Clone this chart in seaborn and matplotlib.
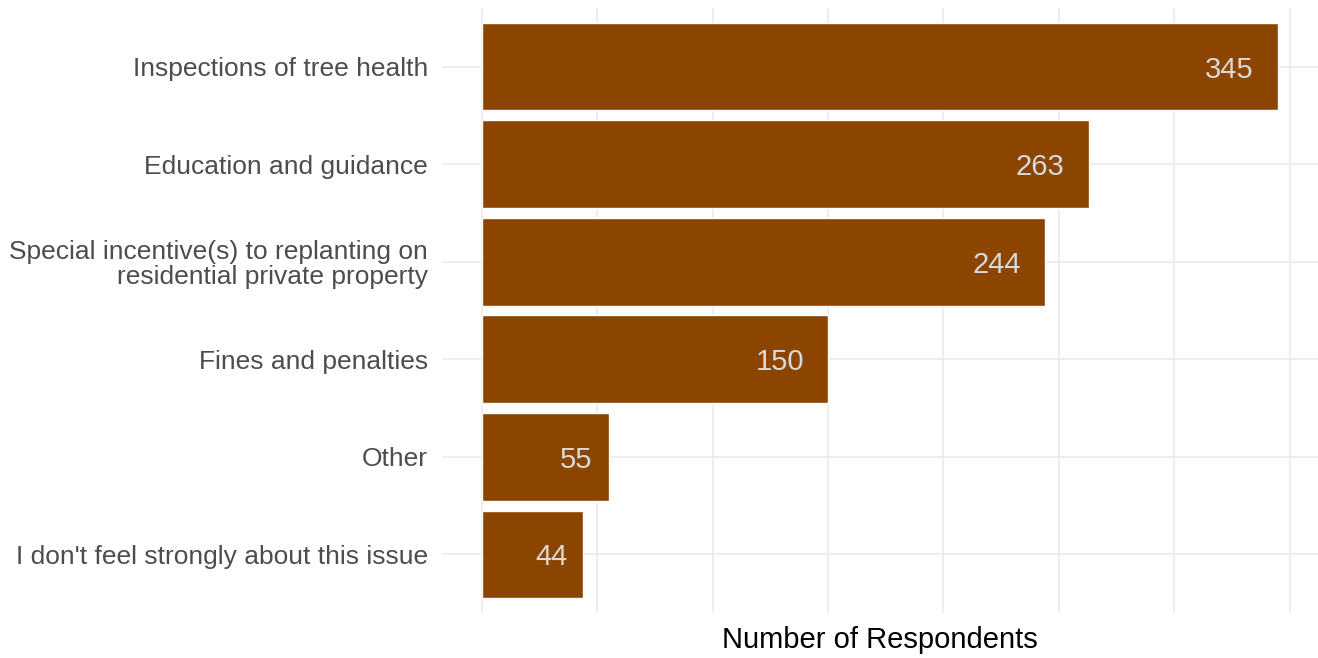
import matplotlib
matplotlib.use("Agg")
import matplotlib.pyplot as plt
import matplotlib.transforms as mtransforms
import seaborn as sns
import pandas as pd

categories = [
    "Inspections of tree health",
    "Education and guidance",
    "Special incentive(s) to replanting on\nresidential private property",
    "Fines and penalties",
    "Other",
    "I don't feel strongly about this issue",
]
counts = [345, 263, 244, 150, 55, 44]
x_ticks = [0, 50, 100, 150, 200, 250, 300, 350]

df = pd.DataFrame({"category": categories, "count": counts})

sns.set_theme(style="whitegrid")
plt.rcParams["font.family"] = ["Liberation Sans", "DejaVu Sans"]

W, H = 1318, 658
fig = plt.figure(figsize=(W / 100, H / 100), dpi=100)
ax = fig.add_axes([442 / W, 1 - 613 / H, (1318 - 442) / W, (613 - 8) / H])

sns.barplot(data=df, x="count", y="category", order=categories, orient="h",
            color="#8B4500", saturation=1, width=0.9, ax=ax, zorder=2)

ax.set_xlim(-0.05 * max(counts), max(counts) * 1.05)
ax.set_ylim(len(categories) - 1 + 0.6, -0.6)
ax.set_xticks(x_ticks)
ax.set_xticklabels([])
ax.tick_params(axis="x", length=0)
ax.tick_params(axis="y", length=0, pad=10, labelsize=19, labelcolor="#4D4D4D")
for lbl in ax.get_yticklabels():
    lbl.set_horizontalalignment("right")
    lbl.set_multialignment("right")
    lbl.set_linespacing(1.05)
ax.grid(True, axis="both", color="#EBEBEB", linewidth=1.2, zorder=0)
ax.set_axisbelow(True)
for s in ax.spines.values():
    s.set_visible(False)
ax.set_facecolor("white")
ax.set_ylabel("")
ax.set_xlabel("Number of Respondents", fontsize=21, color="black", labelpad=6)

renderer = fig.canvas.get_renderer()
for i, v in enumerate(counts):
    t = ax.text(v, i, str(v), ha="right", va="center_baseline", fontsize=21,
                color="#D9D9D9", zorder=3)
    w = t.get_window_extent(renderer=renderer).width
    t.set_transform(mtransforms.offset_copy(ax.transData, fig=fig,
                                            x=-0.5 * w, y=0, units="dots"))

fig.savefig("out.png", dpi=100, facecolor="white")
